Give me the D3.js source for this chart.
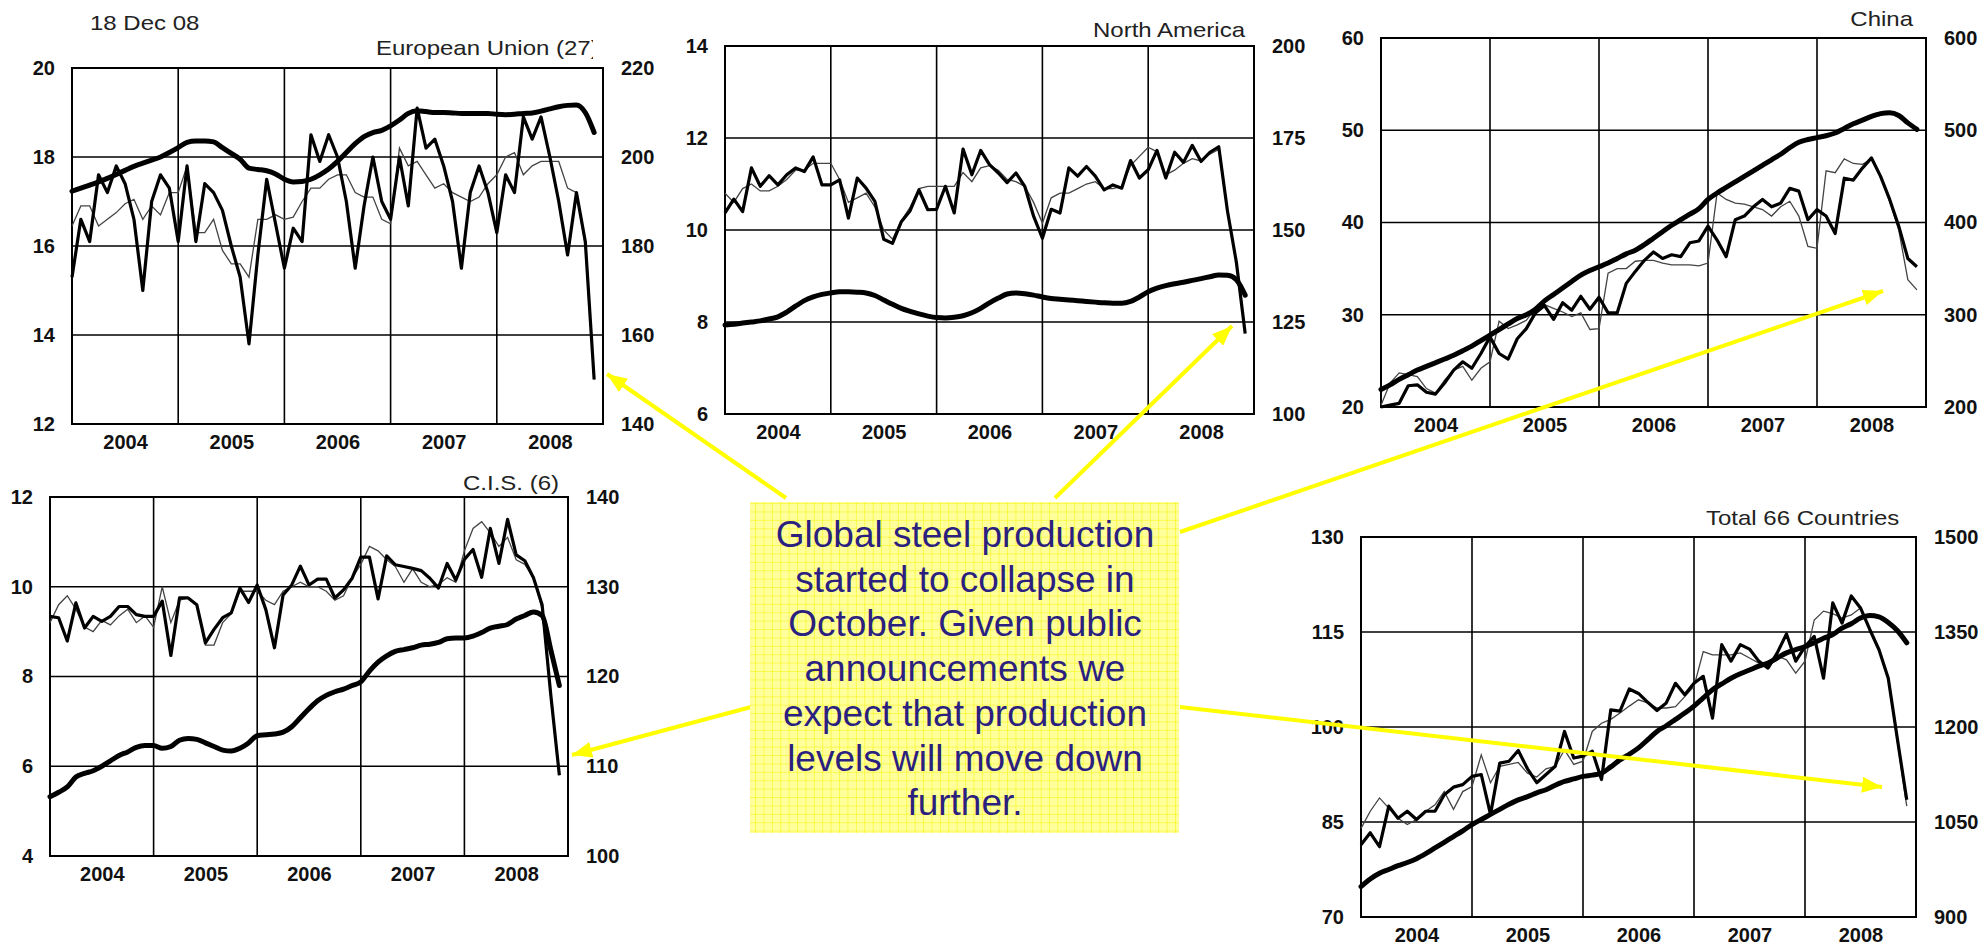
<!DOCTYPE html>
<html>
<head>
<meta charset="utf-8">
<script src="https://cdn.jsdelivr.net/npm/d3@7"></script>
<style>
  body { margin: 0; background: #fff; }
  svg text { font-family: "Liberation Sans", Arial, sans-serif; }
</style>
</head>
<body>
<svg id="chart"></svg>
<script>
const width = 1988;
const height = 946;

// months: index 0 = first month of 2004, 60 months on the axis
const months = d3.range(60);
const yearLabels = ["2004", "2005", "2006", "2007", "2008"];
const yearTicks = [6, 18, 30, 42, 54];
const yearBreaks = [12, 24, 36, 48];

// European Union (27)
const euLeft = [12, 14, 16, 18, 20];
const euRight = [140, 160, 180, 200, 220];
const euMonthly = [15.3,16.6,16.1,17.6,17.2,17.8,17.4,16.6,15.0,17.0,17.6,17.3,
  16.1,17.8,16.1,17.4,17.2,16.8,16.0,15.3,13.8,15.8,17.5,16.5,
  15.5,16.4,16.1,18.5,17.9,18.5,18.0,17.0,15.5,16.9,18.0,17.0,
  16.6,18.0,16.9,19.1,18.2,18.4,17.8,17.0,15.5,17.2,17.8,17.2,
  16.3,17.6,17.2,18.9,18.4,18.9,18.0,17.0,15.8,17.2,16.1,13.0];
const euAdjusted = [16.45,16.9,16.9,16.45,16.6,16.75,16.95,17.05,16.6,16.9,16.7,17.2,
  17.2,17.8,16.3,16.3,16.6,15.9,15.6,15.6,15.3,16.6,16.6,16.7,
  16.6,16.65,17.0,17.3,17.3,17.5,17.6,17.6,17.2,17.1,17.1,16.6,
  16.5,18.2,17.8,17.9,17.6,17.3,17.4,17.2,17.1,17.0,17.1,17.4,
  17.6,18.0,18.1,17.6,17.8,17.9,17.9,17.9,17.3,17.2,16.0,13.0];
const euRolling = [192.3,193.0,193.7,194.4,195.2,196.1,197.0,197.9,198.6,199.3,200.0,201.0,
  202.1,203.3,203.6,203.6,203.4,202.1,200.8,199.5,197.5,197.2,196.9,196.2,
  195.0,194.4,194.5,195.0,196.0,197.3,199.0,201.0,203.0,204.6,205.5,206.0,
  207.0,208.3,209.8,210.4,210.2,210.0,210.0,209.9,209.8,209.8,209.8,209.8,
  209.6,209.5,209.6,209.8,209.9,210.3,210.8,211.3,211.6,211.7,210.0,205.5];

// North America
const naLeft = [6, 8, 10, 12, 14];
const naRight = [100, 125, 150, 175, 200];
const naMonthly = [10.37,10.67,10.4,11.35,10.95,11.18,10.98,11.2,11.35,11.27,11.59,10.98,
  10.98,11.09,10.26,11.13,10.91,10.62,9.8,9.71,10.18,10.42,10.87,10.44,
  10.45,10.95,10.37,11.76,11.2,11.73,11.42,11.24,11.03,11.24,10.95,10.3,
  9.82,10.45,10.37,11.35,11.17,11.38,11.17,10.87,10.98,10.91,11.51,11.13,
  11.31,11.73,11.13,11.69,11.47,11.84,11.49,11.69,11.81,10.4,9.3,7.75];
const naAdjusted = [10.8,10.6,10.9,11.0,10.85,10.85,10.95,11.1,11.3,11.3,11.45,11.45,
  11.45,11.1,10.6,10.7,10.8,10.5,10.0,9.8,10.2,10.5,10.9,10.95,
  10.95,10.95,10.95,11.25,11.05,11.35,11.4,11.3,11.1,11.05,10.95,10.6,
  10.15,10.7,10.8,10.8,10.9,11.0,11.05,10.9,10.9,10.95,11.4,11.6,
  11.8,11.7,11.2,11.3,11.45,11.55,11.5,11.65,11.75,10.4,9.3,7.75];
const naRolling = [124.2,124.4,124.7,125.0,125.3,125.8,126.4,127.7,129.3,130.8,131.8,132.5,
  132.9,133.2,133.2,133.1,132.9,132.2,131.0,129.8,128.7,127.9,127.2,126.6,
  126.2,126.1,126.3,126.7,127.5,128.7,130.2,131.5,132.6,132.9,132.7,132.3,
  131.8,131.4,131.2,131.0,130.8,130.6,130.4,130.2,130.1,130.1,130.6,131.8,
  133.2,134.2,134.9,135.4,135.8,136.3,136.8,137.3,137.8,137.7,136.5,132.3];

// China
const cnLeft = [20, 30, 40, 50, 60];
const cnRight = [200, 300, 400, 500, 600];
const cnMonthly = [20.0,20.2,20.4,22.3,22.4,21.6,21.4,22.6,24.0,24.9,24.2,25.8,
  27.6,25.8,25.2,27.4,28.5,30.2,31.0,29.5,31.3,30.5,32.0,30.6,
  31.9,30.2,30.2,33.4,34.7,35.9,36.8,36.1,36.5,36.3,37.8,38.0,
  39.6,38.1,36.3,40.3,40.7,41.7,42.5,41.7,42.1,43.7,43.4,40.3,
  41.4,40.7,38.8,44.8,44.6,45.9,47.0,45.0,42.5,39.6,36.1,35.2];
const cnAdjusted = [20.2,22.6,23.7,23.5,23.3,22.0,21.5,22.9,24.0,24.4,22.9,24.2,
  24.9,29.3,28.5,28.9,29.4,30.7,31.1,30.7,30.3,29.8,30.2,28.4,
  28.5,34.5,35.0,35.0,35.8,35.9,35.9,35.6,35.4,35.4,35.4,35.3,
  35.6,43.2,42.5,42.1,42.0,41.7,41.4,40.7,41.7,42.3,40.7,37.4,
  37.2,45.6,45.4,46.9,46.4,46.3,46.9,45.0,42.3,39.2,33.8,32.7];
const cnRolling = [219,224,230,235,240,244,248,252,256,261,266,272,
  278,284,290,296,300,306,315,322,329,336,343,348,
  352,356,361,366,370,376,383,390,397,403,409,415,
  425,432,438,444,450,456,462,468,474,481,487,490,
  492,494,497,502,507,511,515,518,519,516,508,501];

// C.I.S. (6)
const cisLeft = [4, 6, 8, 10, 12];
const cisRight = [100, 110, 120, 130, 140];
const cisMonthly = [9.34,9.31,8.79,9.64,9.08,9.34,9.23,9.34,9.56,9.56,9.38,9.34,
  9.34,9.68,8.47,9.75,9.75,9.6,8.75,9.05,9.31,9.42,9.97,9.65,
  10.04,9.49,8.64,9.82,10.04,10.46,10.04,10.17,10.17,9.75,9.93,10.19,
  10.66,10.66,9.73,10.69,10.49,10.45,10.41,10.36,10.19,9.97,10.52,10.15,
  10.61,10.83,10.21,11.3,10.52,11.5,10.71,10.58,10.2,9.6,7.6,5.8];
const cisAdjusted = [9.2,9.6,9.8,9.5,9.1,9.0,9.25,9.15,9.35,9.5,9.2,9.35,
  9.1,10.0,9.2,9.7,9.75,9.6,8.7,8.7,9.2,9.4,9.9,9.9,
  9.9,9.7,9.6,9.9,10.0,10.1,10.0,10.0,9.9,9.7,9.8,10.2,
  10.5,10.9,10.8,10.6,10.45,10.1,10.4,10.1,10.0,10.05,10.2,10.1,
  10.8,11.3,11.45,11.2,10.9,11.1,10.6,10.5,10.2,9.5,7.6,5.8];
const cisRolling = [106.6,107.1,107.7,108.8,109.2,109.5,110.0,110.6,111.2,111.6,112.1,112.3,
  112.3,112.0,112.2,112.9,113.1,113.0,112.6,112.2,111.8,111.7,112.0,112.6,
  113.4,113.5,113.6,113.8,114.4,115.4,116.4,117.3,117.9,118.3,118.6,119.0,
  119.4,120.6,121.6,122.3,122.8,123.0,123.2,123.5,123.6,123.8,124.2,124.3,
  124.3,124.5,124.9,125.4,125.6,125.8,126.4,126.8,127.2,126.8,123.0,119.0];

// Total 66 Countries
const totLeft = [70, 85, 100, 115, 130];
const totRight = [900, 1050, 1200, 1350, 1500];
const totMonthly = [81.4,83.3,81.1,87.5,85.6,86.7,85.4,86.7,86.7,89.3,90.5,90.9,
  92.2,92.5,86.2,94.3,94.6,96.3,93.4,91.2,92.5,93.8,99.3,95.1,
  95.4,96.2,91.7,102.7,102.5,106.0,105.3,103.9,102.6,103.8,106.9,105.1,
  106.9,108.0,101.4,113.0,110.4,113.0,112.3,110.4,109.3,111.7,114.7,110.4,
  112.7,114.3,107.7,119.6,116.4,120.7,118.8,115.4,112.2,107.7,98.0,88.5];
const totAdjusted = [84.0,86.7,88.8,87.2,85.6,84.6,85.4,86.7,87.7,89.8,87.0,89.8,
  90.6,95.6,91.2,93.8,94.1,94.4,92.7,92.1,93.4,93.8,96.4,94.1,
  94.6,99.3,100.6,101.2,102.2,103.3,104.3,103.8,103.0,103.0,103.2,104.8,
  106.4,111.9,111.4,111.4,111.4,111.7,110.9,110.1,109.6,111.2,110.6,108.5,
  110.4,116.9,118.3,117.9,117.2,117.7,118.8,115.4,112.2,107.7,97.5,87.5];
const totRolling = [948,960,969,975,981,986,992,1000,1009,1018,1027,1036,
  1046,1054,1062,1070,1078,1085,1090,1096,1101,1108,1114,1118,
  1122,1124,1127,1137,1148,1157,1167,1180,1193,1202,1212,1222,
  1233,1246,1259,1268,1277,1284,1290,1296,1301,1309,1317,1322,
  1327,1333,1340,1346,1356,1363,1372,1376,1374,1365,1352,1333];

const noteLines = ["Global steel production", "started to collapse in", "October. Given public",
  "announcements we", "expect that production", "levels will move down", "further."];

const panels = [
  {name: "European Union (27)", monthly: euMonthly, adjusted: euAdjusted, rolling: euRolling,
   leftTicks: euLeft, rightTicks: euRight, frame: [72, 603, 68, 424],
   label: {x: 376, y: 48, anchor: "start", clip: 593}},
  {name: "North America", monthly: naMonthly, adjusted: naAdjusted, rolling: naRolling,
   leftTicks: naLeft, rightTicks: naRight, frame: [725, 1254, 46, 414],
   label: {x: 1245, y: 30, anchor: "end"}},
  {name: "China", monthly: cnMonthly, adjusted: cnAdjusted, rolling: cnRolling,
   leftTicks: cnLeft, rightTicks: cnRight, frame: [1381, 1926, 38, 407],
   label: {x: 1913, y: 19, anchor: "end"}},
  {name: "C.I.S. (6)", monthly: cisMonthly, adjusted: cisAdjusted, rolling: cisRolling,
   leftTicks: cisLeft, rightTicks: cisRight, frame: [50, 568, 497, 856],
   label: {x: 559, y: 483, anchor: "end"}},
  {name: "Total 66 Countries", monthly: totMonthly, adjusted: totAdjusted, rolling: totRolling,
   leftTicks: totLeft, rightTicks: totRight, frame: [1361, 1916, 537, 917],
   label: {x: 1706, y: 518, anchor: "start", clip: 1899}}
];

const svg = d3.select("#chart").attr("width", width).attr("height", height);
const defs = svg.append("defs");

function styleAxis(a) {
  a.select(".domain").remove();
  a.attr("font-size", 20).attr("font-weight", "bold")
   .attr("font-family", '"Liberation Sans", Arial, sans-serif');
  a.selectAll("text").attr("fill", "#111");
}

panels.forEach((p, i) => {
  const [x0, x1, y0, y1] = p.frame;
  const x = d3.scaleLinear().domain([0, 60]).range([x0, x1]);
  const yL = d3.scaleLinear().domain(d3.extent(p.leftTicks)).range([y1, y0]);
  const yR = d3.scaleLinear().domain(d3.extent(p.rightTicks)).range([y1, y0]);
  const g = svg.append("g").attr("class", "panel");

  g.selectAll("line.hgrid").data(p.leftTicks.slice(1, -1)).join("line")
    .attr("class", "hgrid")
    .attr("x1", x0).attr("x2", x1)
    .attr("y1", d => yL(d)).attr("y2", d => yL(d))
    .attr("stroke", "#000").attr("stroke-width", 1.6);
  g.selectAll("line.vgrid").data(yearBreaks).join("line")
    .attr("class", "vgrid")
    .attr("x1", d => x(d)).attr("x2", d => x(d))
    .attr("y1", y0).attr("y2", y1)
    .attr("stroke", "#000").attr("stroke-width", 1.6);
  g.append("rect")
    .attr("x", x0).attr("y", y0).attr("width", x1 - x0).attr("height", y1 - y0)
    .attr("fill", "none").attr("stroke", "#000").attr("stroke-width", 2);

  g.append("g").attr("transform", `translate(${x0},0)`)
    .call(d3.axisLeft(yL).tickValues(p.leftTicks).tickFormat(d3.format("d")).tickSize(0).tickPadding(17))
    .call(styleAxis);
  g.append("g").attr("transform", `translate(${x1},0)`)
    .call(d3.axisRight(yR).tickValues(p.rightTicks).tickFormat(d3.format("d")).tickSize(0).tickPadding(18))
    .call(styleAxis);
  g.append("g").attr("transform", `translate(0,${y1})`)
    .call(d3.axisBottom(x).tickValues(yearTicks).tickFormat((d, k) => yearLabels[k])
      .tickSize(0).tickPadding(11))
    .call(styleAxis);

  const lineL = d3.line().x((d, k) => x(months[k])).y(d => yL(d));
  const lineR = d3.line().x((d, k) => x(months[k])).y(d => yR(d)).curve(d3.curveMonotoneX);

  g.append("path").datum(p.adjusted).attr("d", lineL)
    .attr("fill", "none").attr("stroke", "#444").attr("stroke-width", 1.3);
  g.append("path").datum(p.rolling).attr("d", lineR)
    .attr("fill", "none").attr("stroke", "#000").attr("stroke-width", 5)
    .attr("stroke-linejoin", "round").attr("stroke-linecap", "round");
  g.append("path").datum(p.monthly).attr("d", lineL)
    .attr("fill", "none").attr("stroke", "#000").attr("stroke-width", 3.2)
    .attr("stroke-linejoin", "round");

  const lab = p.label;
  const t = g.append("text")
    .attr("transform", `translate(${lab.x},${lab.y}) scale(1.2,1)`)
    .attr("text-anchor", lab.anchor).attr("dominant-baseline", "central")
    .attr("font-size", 20).attr("fill", "#222").text(p.name);
  if (lab.clip) {
    defs.append("clipPath").attr("id", "clip" + i).append("rect")
      .attr("x", lab.x - 10).attr("y", lab.y - 20).attr("width", lab.clip - lab.x + 10).attr("height", 40);
    g.append("g").attr("clip-path", `url(#clip${i})`).node().appendChild(t.node());
  }
});

svg.append("text")
  .attr("transform", "translate(90,23) scale(1.2,1)")
  .attr("dominant-baseline", "central").attr("font-size", 20).attr("fill", "#222")
  .text("18 Dec 08");

// annotation arrows (box edge -> tip)
const arrows = [
  [[786, 498], [607, 374]],
  [[1055, 498], [1232, 326]],
  [[1180, 532], [1883, 291]],
  [[751, 707], [572, 755]],
  [[1180, 707], [1882, 787]]
];
defs.append("marker").attr("id", "head")
  .attr("viewBox", "0 0 20 16").attr("refX", 20).attr("refY", 8)
  .attr("markerWidth", 20).attr("markerHeight", 16)
  .attr("markerUnits", "userSpaceOnUse").attr("orient", "auto")
  .append("path").attr("d", "M0,0L20,8L0,16Z").attr("fill", "#ffff00");
svg.append("g").selectAll("line").data(arrows).join("line")
  .attr("x1", d => d[0][0]).attr("y1", d => d[0][1])
  .attr("x2", d => d[1][0]).attr("y2", d => d[1][1])
  .attr("stroke", "#ffff00").attr("stroke-width", 4)
  .attr("marker-end", "url(#head)");

// note box
const pat = defs.append("pattern").attr("id", "grid")
  .attr("width", 8.4).attr("height", 8.4).attr("patternUnits", "userSpaceOnUse");
pat.append("rect").attr("width", 8.4).attr("height", 8.4).attr("fill", "#ffff9c");
pat.append("path").attr("d", "M8.4 0V8.4H0").attr("fill", "none")
  .attr("stroke", "#f4f400").attr("stroke-width", 1);

svg.append("rect").attr("x", 750).attr("y", 502).attr("width", 429).attr("height", 331)
  .attr("fill", "url(#grid)");
svg.append("g").selectAll("text").data(noteLines).join("text")
  .attr("x", 965).attr("y", (d, k) => 547 + k * 44.7)
  .attr("text-anchor", "middle").attr("font-size", 37).attr("fill", "#2b1f7f")
  .text(d => d);
</script>
</body>
</html>
